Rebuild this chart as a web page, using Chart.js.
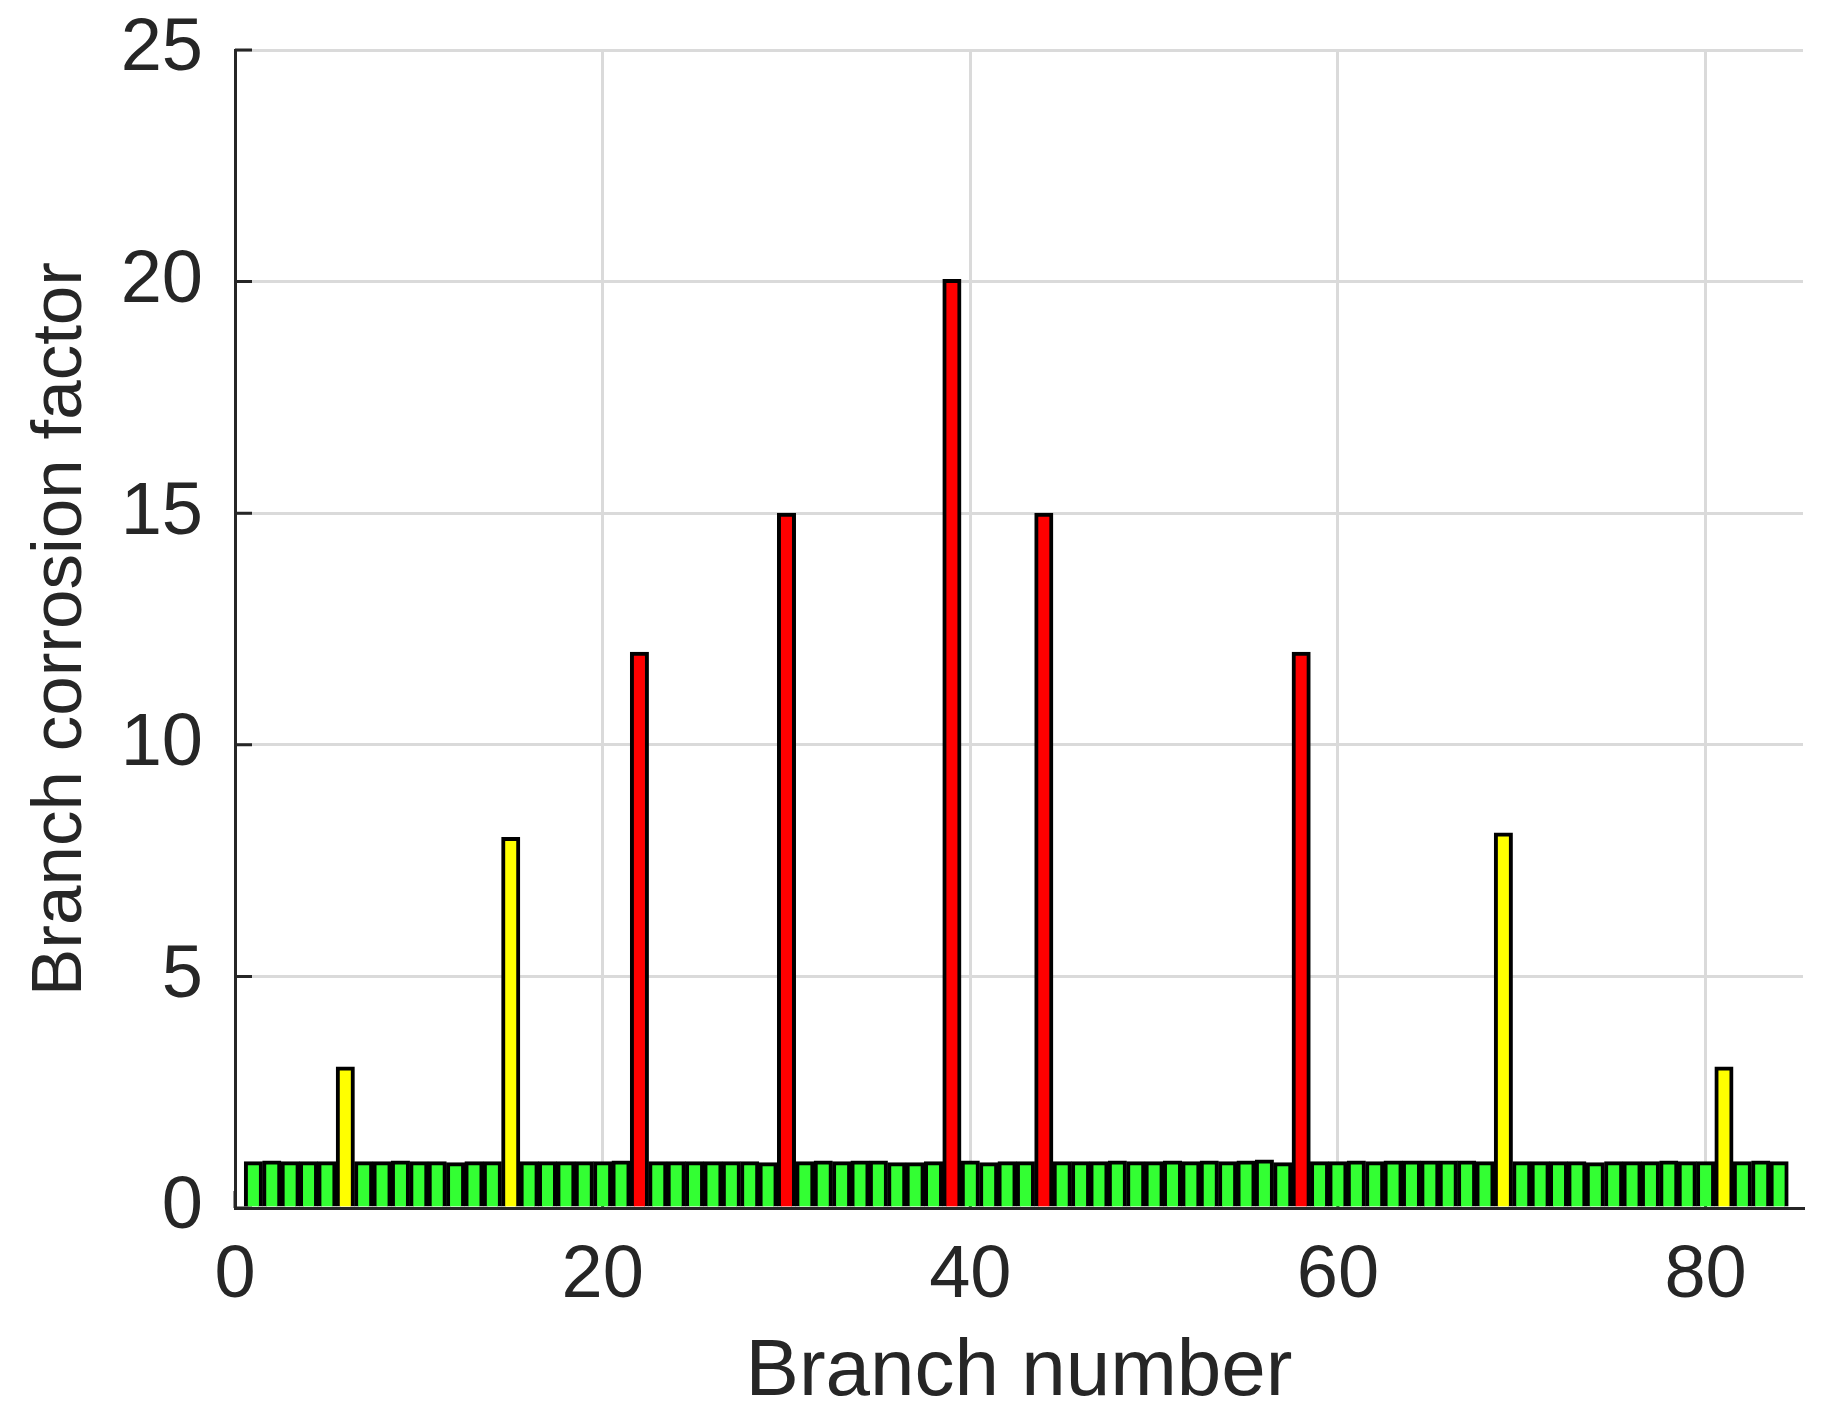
<!DOCTYPE html>
<html>
<head>
<meta charset="utf-8">
<title>Branch corrosion factor</title>
<script src="https://cdn.jsdelivr.net/npm/chart.js@4.4.1/dist/chart.umd.min.js"></script>
<style>
    html, body { margin: 0; padding: 0; background: #ffffff; }
    #wrap { width: 1833px; height: 1419px; }
</style>
</head>
<body>
<div id="wrap"><canvas id="chart" width="1833" height="1419"></canvas></div>
<script>
// Daten
const branches = [1,2,3,4,5,6,7,8,9,10,11,12,13,14,15,16,17,18,19,20,
    21,22,23,24,25,26,27,28,29,30,31,32,33,34,35,36,37,38,39,40,
    41,42,43,44,45,46,47,48,49,50,51,52,53,54,55,56,57,58,59,60,
    61,62,63,64,65,66,67,68,69,70,71,72,73,74,75,76,77,78,79,80,
    81,82,83,84];
const corrosionFactor = [1.00,1.02,1.00,1.00,1.00,3.05,1.00,1.00,1.02,1.00,
    1.00,0.98,1.00,1.00,8.00,1.00,1.00,1.00,1.00,1.00,
    1.02,12.0,1.00,1.00,1.00,1.00,1.00,1.00,0.98,15.0,
    1.00,1.02,1.00,1.02,1.02,0.98,0.98,1.00,20.05,1.02,
    0.98,1.00,1.00,15.0,1.00,1.00,1.00,1.02,1.00,1.00,
    1.02,1.00,1.02,1.00,1.02,1.04,0.98,12.0,1.00,1.00,
    1.02,1.00,1.02,1.02,1.02,1.02,1.02,1.00,8.10,1.00,
    1.00,1.00,1.00,0.98,1.00,1.00,1.00,1.02,1.00,1.00,
    3.05,1.00,1.02,1.00];
const xTicks = [0, 20, 40, 60, 80];
const yTicks = [0, 5, 10, 15, 20, 25];

// Farben je nach Stufe
const GREEN = "#33ff33", YELLOW = "#ffff00", RED = "#ff0000";
function barColor(v){
    if(v > 10) return RED;
    if(v > 2) return YELLOW;
    return GREEN;
}

const AXIS = "#262626";
const FONT = "'Liberation Sans', Arial, Helvetica, sans-serif";

// Ticks nach innen (wie MATLAB)
const innerTicks = {
    id: "innerTicks",
    beforeDatasetsDraw(chart){
        const ctx = chart.ctx, a = chart.chartArea;
        const xs = chart.scales.x, ys = chart.scales.y;
        const len = 17;
        ctx.save();
        ctx.strokeStyle = AXIS;
        ctx.lineWidth = 3;
        ctx.beginPath();
        yTicks.forEach(t => {
            const y = ys.getPixelForValue(t);
            ctx.moveTo(a.left, y);
            ctx.lineTo(a.left + len, y);
        });
        xTicks.forEach(t => {
            const x = xs.getPixelForValue(t);
            ctx.moveTo(x, a.bottom);
            ctx.lineTo(x, a.bottom - len);
        });
        ctx.stroke();
        ctx.restore();
    }
};

const points = branches.map((b, i) => ({x: b, y: corrosionFactor[i]}));

new Chart(document.getElementById("chart").getContext("2d"), {
    type: "bar",
    data: {
        datasets: [{
            data: points,
            backgroundColor: points.map(p => barColor(p.y)),
            borderColor: "#000000",
            borderWidth: 4,
            barPercentage: 1.0,
            categoryPercentage: 1.0
        }]
    },
    options: {
        responsive: false,
        animation: false,
        devicePixelRatio: 1,
        layout: { padding: { top: 50, right: 30, left: 0, bottom: 0 } },
        plugins: {
            legend: { display: false },
            tooltip: { enabled: false }
        },
        scales: {
            x: {
                type: "linear",
                min: 0,
                max: 85.3,
                offset: false,
                afterFit: s => { s.height = 211; s.paddingLeft = 0; s.paddingRight = 0; },
                afterBuildTicks: s => { s.ticks = xTicks.map(v => ({value: v})); },
                grid: { color: "#dadada", lineWidth: 3, drawTicks: false, offset: false },
                border: { display: true, color: AXIS, width: 3 },
                ticks: {
                    color: AXIS,
                    padding: 24,
                    maxRotation: 0,
                    font: { family: FONT, size: 74 }
                },
                title: {
                    display: true,
                    text: "Branch number",
                    color: AXIS,
                    padding: { top: 0, bottom: -2 },
                    font: { family: FONT, size: 80 }
                }
            },
            y: {
                min: 0,
                max: 25,
                afterFit: s => { s.width = 235; s.paddingTop = 0; s.paddingBottom = 0; },
                afterBuildTicks: s => { s.ticks = yTicks.map(v => ({value: v})); },
                grid: { color: "#dadada", lineWidth: 3, drawTicks: false },
                border: { display: true, color: AXIS, width: 3 },
                ticks: {
                    color: AXIS,
                    padding: 32,
                    font: { family: FONT, size: 74 }
                },
                title: {
                    display: true,
                    text: "Branch corrosion factor",
                    color: AXIS,
                    padding: { top: 19, bottom: 0 },
                    font: { family: FONT, size: 71 }
                }
            }
        }
    },
    plugins: [innerTicks]
});
</script>
</body>
</html>
